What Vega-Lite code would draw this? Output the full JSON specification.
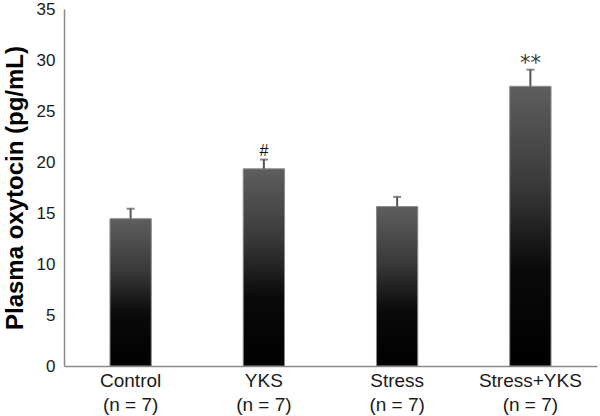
{
  "$schema": "https://vega.github.io/schema/vega-lite/v6.json",
  "autosize": {"type": "none"},
  "width": 533,
  "height": 357,
  "padding": {"left": 64, "top": 9, "right": 3, "bottom": 50},
  "background": "white",
  "config": {
    "view": {"stroke": null},
    "font": "Liberation Sans"
  },
  "data": {
    "values": [
      {"group": "Control|(n = 7)", "mean": 14.44, "upper": 15.42, "sig": ""},
      {"group": "YKS|(n = 7)", "mean": 19.33, "upper": 20.24, "sig": "#"},
      {"group": "Stress|(n = 7)", "mean": 15.64, "upper": 16.58, "sig": ""},
      {"group": "Stress+YKS|(n = 7)", "mean": 27.42, "upper": 29.05, "sig": "**"}
    ]
  },
  "encoding": {
    "x": {
      "field": "group",
      "type": "nominal",
      "sort": null,
      "scale": {"paddingInner": 0.69, "paddingOuter": 0.345},
      "axis": {
        "title": null,
        "labelAngle": 0,
        "labelExpr": "split(datum.label, '|')",
        "labelFont": "Liberation Sans",
        "labelFontSize": 19,
        "labelColor": "#1a1a1a",
        "labelLineHeight": 24,
        "labelPadding": 5,
        "ticks": false,
        "domainColor": "#8a8a8a",
        "domainWidth": 1.5,
        "grid": false
      }
    }
  },
  "layer": [
    {
      "mark": {
        "type": "bar",
        "stroke": "#8a8a8a",
        "strokeWidth": 1,
        "color": {
          "gradient": "linear",
          "x1": 0, "y1": 0, "x2": 0, "y2": 1,
          "stops": [
            {"offset": 0, "color": "#5e5e5e"},
            {"offset": 0.35, "color": "#3a3a3a"},
            {"offset": 0.65, "color": "#0a0a0a"},
            {"offset": 1, "color": "#000000"}
          ]
        }
      },
      "encoding": {
        "y": {
          "field": "mean",
          "type": "quantitative",
          "scale": {"domain": [0, 35], "nice": false},
          "axis": {
            "title": "Plasma oxytocin (pg/mL)",
            "titleFont": "Liberation Sans",
            "titleFontSize": 24,
            "titleFontWeight": "bold",
            "titleColor": "#000000",
            "titlePadding": 9,
            "values": [0, 5, 10, 15, 20, 25, 30, 35],
            "labelFont": "Liberation Sans",
            "labelFontSize": 17,
            "labelColor": "#1a1a1a",
            "labelPadding": 9,
            "ticks": false,
            "grid": false,
            "domainColor": "#8a8a8a",
            "domainWidth": 1.5
          }
        }
      }
    },
    {
      "mark": {"type": "rule", "color": "#555555", "strokeWidth": 2},
      "encoding": {
        "y": {"field": "mean", "type": "quantitative"},
        "y2": {"field": "upper"}
      }
    },
    {
      "mark": {"type": "tick", "color": "#555555", "thickness": 2, "size": 8},
      "encoding": {
        "y": {"field": "upper", "type": "quantitative"}
      }
    },
    {
      "transform": [{"filter": "datum.sig == '#'"}],
      "mark": {"type": "text", "dy": -9, "fontSize": 16, "color": "#111111", "font": "Liberation Sans"},
      "encoding": {
        "y": {"field": "upper", "type": "quantitative"},
        "text": {"field": "sig"}
      }
    },
    {
      "transform": [{"filter": "datum.sig == '**'"}],
      "mark": {"type": "text", "dy": -6, "fontSize": 21, "color": "#3a3a3a", "font": "DejaVu Sans", "fontWeight": "normal"},
      "encoding": {
        "y": {"field": "upper", "type": "quantitative"},
        "text": {"field": "sig"}
      }
    }
  ]
}
